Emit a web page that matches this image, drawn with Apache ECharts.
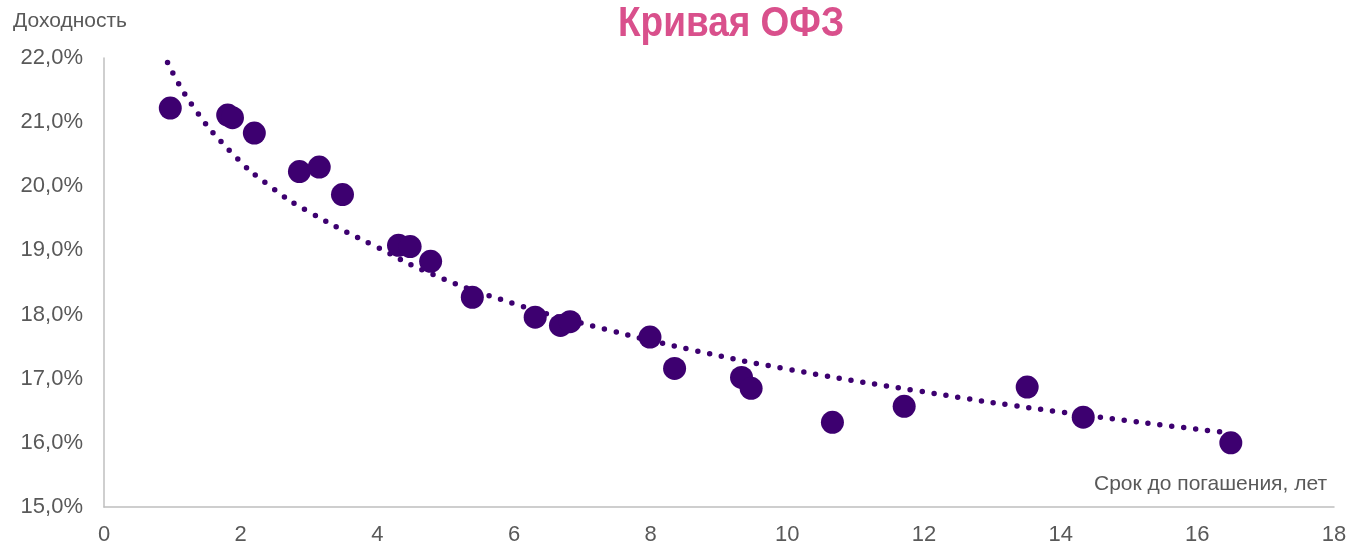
<!DOCTYPE html>
<html>
<head>
<meta charset="utf-8">
<script src="https://cdn.jsdelivr.net/npm/echarts@6/dist/echarts.min.js"></script>
<style>
  html, body { margin: 0; padding: 0; background: #fff; }
  #chart { width: 1350px; height: 546px; }
</style>
</head>
<body>
<div id="chart"></div>
<script>
// срок до погашения (лет) и доходность (%) по выпускам ОФЗ
const maturity = [0.97, 1.81, 1.88, 2.20, 2.86, 3.15, 3.49, 4.31, 4.48, 4.78, 5.39, 6.31,
  6.68, 6.82, 7.99, 8.35, 9.33, 9.47, 10.66, 11.71, 13.51, 14.33, 16.49];
const yieldPct = [21.22, 21.11, 21.07, 20.83, 20.23, 20.30, 19.87, 19.08, 19.06, 18.83, 18.27, 17.96,
  17.83, 17.89, 17.65, 17.16, 17.02, 16.85, 16.32, 16.57, 16.87, 16.40, 16.00];

// точки линии тренда
const trendX = [0.93, 1.3, 1.88, 2.43, 3.0, 4.0, 4.8, 6.0, 7.2, 8.6, 10.0, 11.85, 14.0, 16.35];
const trendY = [21.93, 21.25, 20.51, 20.0, 19.6, 19.05, 18.63, 18.17, 17.81, 17.45, 17.15, 16.82, 16.48, 16.17];

const xTicks = [0, 2, 4, 6, 8, 10, 12, 14, 16, 18];

const purple = '#3D0070';
const gray = '#595959';
const font = '"Liberation Sans", Arial, sans-serif';

let chart = echarts.init(document.getElementById('chart'));

let options = {
  animation: false,
  title: {
    text: 'Доходность',
    left: 8,
    top: 6,
    textStyle: {
      color: gray,
      fontFamily: font,
      fontWeight: 'normal',
      fontSize: 21
    }
  },
  // заголовок сжат по ширине, как в оригинале
  graphic: [
    {
      type: 'text',
      left: 618,
      top: 3,
      scaleX: 0.86,
      style: {
        text: 'Кривая ОФЗ',
        fill: '#D9508C',
        font: 'bold 43px ' + font
      }
    }
  ],
  grid: {
    left: 104,
    right: 16,
    top: 58,
    bottom: 38
  },
  xAxis: {
    type: 'value',
    min: xTicks[0],
    max: xTicks[xTicks.length - 1],
    interval: 2,
    splitLine: { show: false },
    axisTick: { show: false },
    axisLine: { lineStyle: { color: '#BFBFBF', width: 1.5 } },
    axisLabel: {
      color: gray,
      fontFamily: font,
      fontSize: 22,
      margin: 17
    },
    name: 'Срок до погашения, лет',
    nameLocation: 'end',
    nameGap: -7,
    nameTextStyle: {
      color: gray,
      fontFamily: font,
      fontSize: 21,
      align: 'right',
      verticalAlign: 'bottom',
      padding: [0, 0, 12, 0]
    }
  },
  yAxis: {
    type: 'value',
    min: 15,
    max: 22,
    interval: 1,
    splitLine: { show: false },
    axisTick: { show: false },
    axisLine: { show: true, lineStyle: { color: '#BFBFBF', width: 1.5 } },
    axisLabel: {
      color: gray,
      fontFamily: font,
      fontSize: 22,
      margin: 21,
      formatter: function (v) {
        return v.toFixed(1).replace('.', ',') + '%';
      }
    }
  },
  series: [
    {
      type: 'line',
      data: trendX.map((x, i) => [x, trendY[i]]),
      smooth: true,
      showSymbol: false,
      symbol: 'none',
      z: 1,
      lineStyle: {
        color: purple,
        width: 5.5,
        type: [0, 12],
        cap: 'round'
      }
    },
    {
      type: 'scatter',
      data: maturity.map((x, i) => [x, yieldPct[i]]),
      symbolSize: 23,
      z: 2,
      itemStyle: { color: purple, opacity: 1 }
    }
  ]
};

chart.setOption(options);
</script>
</body>
</html>
